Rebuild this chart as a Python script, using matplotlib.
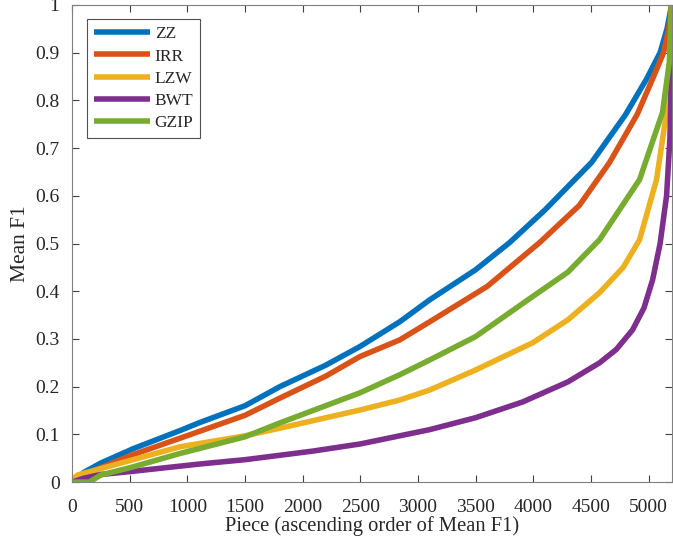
import matplotlib
matplotlib.use("Agg")
import matplotlib.pyplot as plt
import numpy as np

plt.rcParams['font.family'] = ['Liberation Serif', 'DejaVu Serif']

# mean F1 per piece, sorted ascending, for each method
zz_x = [0, 100, 250, 530, 936, 1109, 1500, 1802, 2200, 2496, 2842, 3102, 3500, 3795, 4100, 4506, 4800, 4983, 5100, 5160, 5200]
zz_y = [0, 0.02, 0.04, 0.07, 0.108, 0.125, 0.16, 0.2, 0.245, 0.284, 0.336, 0.382, 0.445, 0.502, 0.57, 0.67, 0.77, 0.845, 0.9, 0.95, 1.0]

irr_x = [0, 100, 500, 936, 1500, 1802, 2200, 2496, 2842, 3102, 3600, 4055, 4400, 4662, 4900, 5035, 5130, 5175, 5200]
irr_y = [0, 0.015, 0.055, 0.092, 0.14, 0.176, 0.222, 0.263, 0.298, 0.336, 0.41, 0.502, 0.58, 0.67, 0.77, 0.845, 0.9, 0.95, 1.0]

lzw_x = [0, 50, 200, 500, 936, 1500, 1802, 2496, 2842, 3102, 3500, 3995, 4300, 4575, 4780, 4922, 5069, 5156, 5185, 5200]
lzw_y = [0.005, 0.015, 0.025, 0.045, 0.074, 0.097, 0.113, 0.151, 0.172, 0.193, 0.235, 0.292, 0.34, 0.397, 0.45, 0.508, 0.634, 0.775, 0.88, 1.0]

bwt_x = [0, 100, 250, 500, 1109, 1500, 2088, 2500, 3102, 3500, 3908, 4300, 4575, 4720, 4861, 4960, 5035, 5100, 5156, 5185, 5200]
bwt_y = [0, 0.008, 0.016, 0.022, 0.038, 0.047, 0.065, 0.08, 0.11, 0.135, 0.168, 0.21, 0.25, 0.278, 0.319, 0.365, 0.424, 0.5, 0.6, 0.72, 0.88]

gzip_x = [0, 150, 250, 500, 936, 1500, 1802, 2496, 2842, 3102, 3500, 3995, 4300, 4575, 4922, 5121, 5180, 5200]
gzip_y = [0, 0, 0.015, 0.03, 0.06, 0.095, 0.124, 0.187, 0.225, 0.256, 0.305, 0.389, 0.44, 0.508, 0.634, 0.775, 0.88, 1.0]

names = ['ZZ', 'IRR', 'LZW', 'BWT', 'GZIP']
colors = ['#0072BD', '#D95319', '#EDB120', '#7E2F8E', '#77AC30']

fig = plt.figure(figsize=(6.73, 5.46), dpi=100)
ax = fig.add_axes([0.107, 0.117, 0.8915, 0.874])

series = [(zz_x, zz_y), (irr_x, irr_y), (lzw_x, lzw_y), (bwt_x, bwt_y), (gzip_x, gzip_y)]
for (xs, ys), name, c in zip(series, names, colors):
    ax.plot(xs, ys, color=c, lw=4, label=name, solid_capstyle='butt')

ax.set_xlim(0, 5203)
ax.set_ylim(0, 1)
ax.set_xticks(np.arange(0, 5001, 500))
ax.set_yticks(np.arange(0, 1.01, 0.1))
ax.set_yticklabels(['0'] + ['%.1f' % v for v in np.arange(0.1, 0.95, 0.1)] + ['1'])

grey = '#262626'
for s in ax.spines.values():
    s.set_color('#808080')
    s.set_linewidth(0.8)
ax.tick_params(direction='in', top=True, right=True, length=5, width=0.8,
               color='#404040', labelsize=14, labelcolor=grey)
ax.tick_params(axis='x', pad=12)
ax.tick_params(axis='y', pad=9)

ax.set_xlabel('Piece (ascending order of Mean F1)', fontsize=14.8, color=grey, labelpad=0)
ax.set_ylabel('Mean F1', fontsize=15.5, color=grey, labelpad=4)

leg = ax.legend(loc='upper left', bbox_to_anchor=(0.025, 0.97), fontsize=12.5,
                frameon=True, fancybox=False, handlelength=3.2, handletextpad=0.3,
                labelspacing=0.35, borderpad=0.4, borderaxespad=0)
leg.get_frame().set_edgecolor('#262626')
leg.get_frame().set_linewidth(0.8)
for t in leg.get_texts():
    t.set_color(grey)

fig.savefig('out.png', dpi=100)
